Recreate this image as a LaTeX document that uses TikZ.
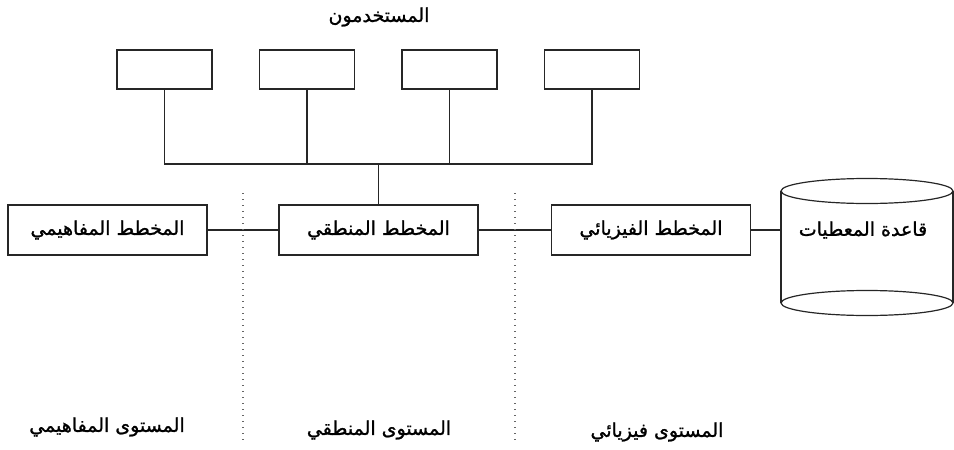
\documentclass[tikz,border=0pt]{standalone}
\usepackage{fontspec}
\TeXXeTstate=1
\newfontfamily\arabicfont[Script=Arabic,FakeBold=1.2]{DejaVu Sans}
\begin{document}
\begin{tikzpicture}[x=1pt,y=-1pt,
  ln/.style={line width=1.2pt,draw=black!85},
  userbox/.style={ln,rectangle,minimum width=95pt,minimum height=39pt,inner sep=0pt},
  schemabox/.style={ln,rectangle,minimum width=199pt,minimum height=50pt,inner sep=0pt,font=\arabicfont\fontsize{19}{22}\selectfont},
  lbl/.style={inner sep=0pt,font=\arabicfont\fontsize{19}{22}\selectfont},
  sep/.style={line width=1.3pt,draw=black!60,dash pattern=on 1.3pt off 4.7pt}]
\useasboundingbox (0,0) rectangle (954,450);
% title
\node[lbl] (title) at (379,17) {\beginR المستخدمون\endR};
% user boxes
\node[userbox] (u1) at (164.5,69.5) {};
\node[userbox] (u2) at (307,69.5) {};
\node[userbox] (u3) at (449.5,69.5) {};
\node[userbox] (u4) at (592,69.5) {};
% schema boxes
\node[schemabox] (conc) at (107.5,230) {\beginR المخطط المفاهيمي\endR};
\node[schemabox] (logi) at (378.5,230) {\beginR المخطط المنطقي\endR};
\node[schemabox] (phys) at (651,230) {\beginR المخطط الفيزيائي\endR};
% database cylinder
\node[inner sep=0pt,minimum width=172pt,minimum height=138pt] (db) at (867,247) {};
\draw[ln] (781,191) -- (781,303) (953,191) -- (953,303);
\draw[ln] (867,191) ellipse [x radius=86, y radius=12.5];
\draw[ln] (867,303) ellipse [x radius=86, y radius=12.5];
\node[lbl] (dbt) at (863,230) {\beginR قاعدة المعطيات\endR};
% bus
\coordinate (bl) at (164.5,164);
\coordinate (br) at (592,164);
\coordinate (bm) at (378.5,164);
\draw[ln] (u1.south) -- (bl) -- (br) -- (u4.south);
\draw[ln] (u2.south) -- (u2.south |- bl);
\draw[ln] (u3.south) -- (u3.south |- bl);
\draw[ln] (bm) -- (logi.north);
% horizontal links
\draw[ln] (conc.east) -- (logi.west);
\draw[ln] (logi.east) -- (phys.west);
\draw[ln] (phys.east) -- (db.west |- phys.east);
% separators
\coordinate (s1a) at (243,193); \coordinate (s1b) at (243,440);
\coordinate (s2a) at (515,193); \coordinate (s2b) at (515,440);
\draw[sep] (s1a) -- (s1b);
\draw[sep] (s2a) -- (s2b);
% level labels
\node[lbl] (lv1) at (107,427) {\beginR المستوى المفاهيمي\endR};
\node[lbl] (lv2) at (379,430) {\beginR المستوى المنطقي\endR};
\node[lbl] (lv3) at (657,432) {\beginR المستوى فيزيائي\endR};
\end{tikzpicture}
\end{document}
